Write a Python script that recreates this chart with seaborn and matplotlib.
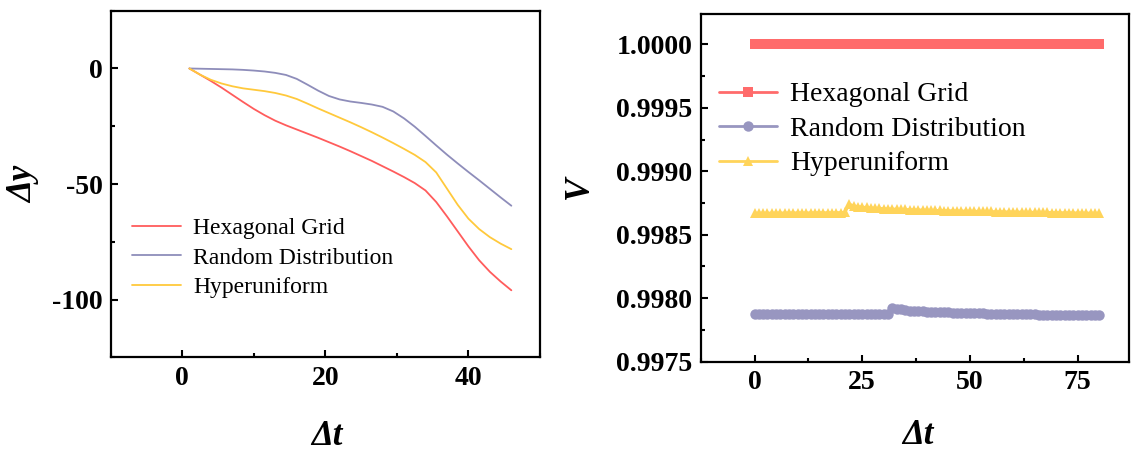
import matplotlib
matplotlib.use("Agg")
import matplotlib.pyplot as plt
import seaborn as sns
from matplotlib.ticker import MultipleLocator, FormatStrFormatter

# ---------------- data ----------------
series_names = ["Hexagonal Grid", "Random Distribution", "Hyperuniform"]

# Left panel: displacement Δy vs Δt
dt_left = [1, 2.5, 4, 5.5, 7, 8.5, 10, 11.5, 13, 14.5, 16, 17.5, 19, 20.5, 22, 23.5,
           25, 26.5, 28, 29.5, 31, 32.5, 34, 35.5, 37, 38.5, 40, 41.5, 43, 44.5, 46]
dy_hex = [0, -2.7, -5.4, -8.3, -11.4, -14.5, -17.5, -20.2, -22.6, -24.6, -26.4, -28.2, -30.0, -31.9, -33.8, -35.8,
          -37.9, -40.0, -42.3, -44.6, -47.0, -49.6, -52.8, -57.8, -64.0, -70.5, -77.0, -83.0, -88.0, -92.2, -96.0]
dy_rand = [0, -0.1, -0.2, -0.3, -0.4, -0.6, -0.9, -1.3, -1.9, -2.8, -4.5, -7.0, -9.6, -11.9, -13.4, -14.3,
           -14.9, -15.6, -16.6, -18.6, -21.6, -25.2, -29.2, -33.3, -37.3, -41.1, -44.8, -48.4, -52.1, -55.8, -59.4]
dy_hyper = [0, -2.7, -4.9, -6.5, -7.7, -8.6, -9.2, -9.8, -10.6, -11.7, -13.2, -15.2, -17.3, -19.3, -21.3, -23.3,
            -25.4, -27.6, -29.9, -32.3, -34.8, -37.4, -40.5, -45.0, -52.0, -59.0, -65.0, -69.5, -73.0, -75.8, -78.2]

# Right panel: V vs Δt (0..80)
dt_right = list(range(0, 81))
v_hex = [1.0, 1.0, 1.0, 1.0, 1.0, 1.0, 1.0, 1.0, 1.0, 1.0,
         1.0, 1.0, 1.0, 1.0, 1.0, 1.0, 1.0, 1.0, 1.0, 1.0,
         1.0, 1.0, 1.0, 1.0, 1.0, 1.0, 1.0, 1.0, 1.0, 1.0,
         1.0, 1.0, 1.0, 1.0, 1.0, 1.0, 1.0, 1.0, 1.0, 1.0,
         1.0, 1.0, 1.0, 1.0, 1.0, 1.0, 1.0, 1.0, 1.0, 1.0,
         1.0, 1.0, 1.0, 1.0, 1.0, 1.0, 1.0, 1.0, 1.0, 1.0,
         1.0, 1.0, 1.0, 1.0, 1.0, 1.0, 1.0, 1.0, 1.0, 1.0,
         1.0, 1.0, 1.0, 1.0, 1.0, 1.0, 1.0, 1.0, 1.0, 1.0,
         1.0]
v_rand = [0.997872, 0.997872, 0.997872, 0.997872, 0.997873, 0.997873, 0.997873, 0.997873, 0.997873, 0.997873,
          0.997874, 0.997874, 0.997874, 0.997874, 0.997874, 0.997874, 0.997874, 0.997875, 0.997875, 0.997875,
          0.997875, 0.997875, 0.997875, 0.997875, 0.997876, 0.997876, 0.997876, 0.997876, 0.997876, 0.997876,
          0.997876, 0.997876, 0.997922, 0.997918, 0.997912, 0.997906, 0.997902, 0.997899, 0.997897, 0.997895,
          0.997893, 0.997891, 0.997890, 0.997889, 0.997888, 0.997887, 0.997886, 0.997885, 0.997884, 0.997883,
          0.997882, 0.997881, 0.997880, 0.997879, 0.997878, 0.997878, 0.997877, 0.997876, 0.997875, 0.997875,
          0.997874, 0.997873, 0.997873, 0.997872, 0.997871, 0.997871, 0.997870, 0.997869, 0.997869, 0.997868,
          0.997868, 0.997867, 0.997867, 0.997866, 0.997866, 0.997865, 0.997865, 0.997864, 0.997864, 0.997863,
          0.997863]
v_hyper = [0.998670, 0.998670, 0.998671, 0.998671, 0.998671, 0.998672, 0.998672, 0.998672, 0.998672, 0.998673,
           0.998673, 0.998673, 0.998673, 0.998673, 0.998674, 0.998674, 0.998674, 0.998674, 0.998674, 0.998675,
           0.998675, 0.998676, 0.998742, 0.998728, 0.998722, 0.998718, 0.998715, 0.998712, 0.998710, 0.998708,
           0.998706, 0.998704, 0.998703, 0.998702, 0.998700, 0.998699, 0.998698, 0.998697, 0.998696, 0.998695,
           0.998694, 0.998693, 0.998692, 0.998691, 0.998690, 0.998690, 0.998689, 0.998688, 0.998687, 0.998687,
           0.998686, 0.998685, 0.998685, 0.998684, 0.998683, 0.998683, 0.998682, 0.998682, 0.998681, 0.998680,
           0.998680, 0.998679, 0.998679, 0.998678, 0.998678, 0.998677, 0.998677, 0.998676, 0.998676, 0.998675,
           0.998675, 0.998674, 0.998674, 0.998673, 0.998673, 0.998672, 0.998672, 0.998671, 0.998671, 0.998670,
           0.998669]

left_colors = ["#FF5C5C", "#8E8DBA", "#FFC93C"]
right_colors = ["#FF6B6B", "#9896C0", "#FFD45A"]
right_markers = ["s", "o", "^"]

# ---------------- style ----------------
sns.set_theme(style="ticks")
plt.rcParams["font.family"] = ["Liberation Serif", "DejaVu Serif"]
plt.rcParams["axes.unicode_minus"] = False
plt.rcParams["axes.linewidth"] = 1.6
plt.rcParams["text.color"] = "black"
plt.rcParams["axes.labelcolor"] = "black"
plt.rcParams["xtick.color"] = "black"
plt.rcParams["ytick.color"] = "black"
plt.rcParams["axes.edgecolor"] = "black"

fig = plt.figure(figsize=(11.32, 4.54), dpi=100)
ax1 = fig.add_axes([0.0978, 0.2130, 0.3792, 0.7634])
ax2 = fig.add_axes([0.6190, 0.2037, 0.3786, 0.7654])

# ---------------- left panel ----------------
for name, vals, c in zip(series_names, [dy_hex, dy_rand, dy_hyper], left_colors):
    sns.lineplot(x=dt_left, y=vals, ax=ax1, color=c, linewidth=1.3, label=name)

ax1.set_xlim(-10, 50)
ax1.set_ylim(-125, 25)
ax1.xaxis.set_major_locator(MultipleLocator(20))
ax1.xaxis.set_minor_locator(MultipleLocator(10))
ax1.yaxis.set_major_locator(MultipleLocator(50))
ax1.yaxis.set_minor_locator(MultipleLocator(25))

ax1.legend(loc="upper left", bbox_to_anchor=(0.049, 0.404), frameon=False,
           fontsize=17, handlelength=2.1, handletextpad=0.5, labelspacing=0.35,
           borderpad=0, borderaxespad=0)

label_kw = dict(fontsize=25, fontweight="bold", fontstyle="italic", color="black")
ax1.set_xlabel("Δt", **label_kw)
ax1.set_ylabel("Δy", **label_kw)

# ---------------- right panel ----------------
for name, vals, c, m in zip(series_names, [v_hex, v_rand, v_hyper], right_colors, right_markers):
    sns.lineplot(x=dt_right, y=vals, ax=ax2, color=c, linewidth=2, marker=m,
                 markersize=7.5, markeredgewidth=0, label=name)

ax2.set_xlim(-12.5, 87)
ax2.set_ylim(0.9975, 1.00024)
ax2.xaxis.set_major_locator(MultipleLocator(25))
ax2.xaxis.set_minor_locator(MultipleLocator(12.5))
ax2.yaxis.set_major_locator(MultipleLocator(0.0005))
ax2.yaxis.set_minor_locator(MultipleLocator(0.00025))
ax2.yaxis.set_major_formatter(FormatStrFormatter("%.4f"))

ax2.legend(loc="upper left", bbox_to_anchor=(0.043, 0.805), frameon=False,
           fontsize=20, handlelength=2.1, handletextpad=0.45, labelspacing=0.33,
           borderpad=0, borderaxespad=0)

ax2.set_xlabel("Δt", **label_kw)
ax2.set_ylabel("V", **label_kw)

for ax in (ax1, ax2):
    for s in ax.spines.values():
        s.set_visible(True)
        s.set_linewidth(1.6)
        s.set_color("black")
    ax.tick_params(which="major", direction="in", length=5, width=1.5,
                   labelsize=20, top=False, right=False, pad=6,
                   colors="black")
    ax.tick_params(which="minor", direction="in", length=3, width=1.5,
                   top=False, right=False, colors="black")
    for lab in ax.get_xticklabels() + ax.get_yticklabels():
        lab.set_fontweight("bold")
    for t in ax.get_legend().get_texts():
        t.set_color("black")

ax1.xaxis.set_label_coords(0.504, -0.18)
ax1.yaxis.set_label_coords(-0.165, 0.5)
ax2.xaxis.set_label_coords(0.507, -0.165)
ax2.yaxis.set_label_coords(-0.244, 0.5)

fig.savefig("out.png", dpi=100)
